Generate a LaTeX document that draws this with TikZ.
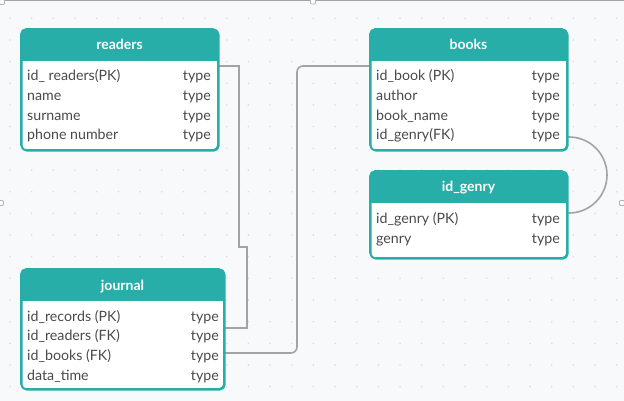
\documentclass[tikz,border=0pt]{standalone}
\usepackage{fontspec}
\setmainfont{Lato}
\definecolor{teal1}{HTML}{27AEA8}
\definecolor{txt}{HTML}{4A4A4A}
\definecolor{conncol}{HTML}{A3A3A3}
\definecolor{bgcol}{HTML}{F8F9FA}
\definecolor{dotcol}{HTML}{DCDEE1}
\tikzset{
  x=1pt,y=-1pt,
  tbody/.style={draw=teal1, line width=1.6pt, fill=white, rounded corners=5pt},
  htext/.style={text=white, font=\fontsize{14}{16}\selectfont\bfseries, inner sep=0pt},
  ltext/.style={text=txt, font=\fontsize{14.2}{16}\selectfont, anchor=base west, inner sep=0pt},
  rtext/.style={text=txt, font=\fontsize{14.2}{16}\selectfont, anchor=base east, inner sep=0pt},
  conn/.style={draw=conncol, line width=1.6pt},
  handle/.style={draw=conncol!80, fill=white, line width=0.8pt, rounded corners=1pt},
}
% #1 name, #2 left, #3 top, #4 right, #5 bottom, #6 title
\newcommand{\ertable}[6]{%
  \node[tbody, minimum width={#4-#2}, minimum height={#5-#3}, anchor=north west, inner sep=0pt] (#1) at (#2,#3) {};
  \begin{scope}
    \clip[rounded corners=5pt] (#2,#3) rectangle (#4,#5);
    \fill[teal1] (#2,#3) rectangle (#4,#3+32);
  \end{scope}
  \draw[teal1, line width=1.6pt, rounded corners=5pt] (#2,#3) rectangle (#4,#5);
  \node[htext, anchor=base] (#1-title) at ({(#2+#4)/2},#3+21) {#6};
}
\begin{document}
\begin{tikzpicture}
\useasboundingbox (0,0) rectangle (624,401);
\fill[bgcol] (0,0) rectangle (624,401);
% dot grid
\foreach \i in {0,...,28} {
  \foreach \j in {0,...,18} {
    \fill[dotcol] ({10+21.67*\i},{18.3+21.67*\j}) circle (0.9);
  }
}
% frame line and handles
\draw[conncol, line width=1pt] (0,1) -- (624,1);
\node[handle, minimum size=5pt, inner sep=0pt] (h1) at (2,2) {};
\node[handle, minimum size=5pt, inner sep=0pt] (h2) at (313,1.5) {};
\node[handle, minimum size=5pt, inner sep=0pt] (h3) at (622,203) {};
\node[handle, minimum size=5pt, inner sep=0pt] (h4) at (1,203) {};

% connectors (drawn below tables)
\coordinate (rp) at (218,66);
\coordinate (jp1) at (224,328);
\coordinate (jp2) at (224,353);
\coordinate (bp1) at (370,66);
\coordinate (bp4) at (567,137);
\coordinate (gp1) at (567,213);
\draw[conn] (rp) -- (239,66) -- (239,247) -- (247,247) -- (247,328) -- (jp1);
\draw[conn, rounded corners=6pt] (jp2) -- (297,353) -- (297,66) -- (bp1);
\draw[conn] (bp4) -- (569,137) arc[start angle=-90, end angle=90, radius=38] -- (gp1);

% readers
\ertable{readers}{21}{29}{218}{150}{readers}
\node[ltext] (r1) at (27,81) {id\_ readers(PK)};
\node[ltext] (r2) at (27,101) {name};
\node[ltext] (r3) at (27,120.5) {surname};
\node[ltext] (r4) at (27,140) {phone number};
\node[rtext] (r1t) at (211,81) {type};
\node[rtext] (r2t) at (211,101) {type};
\node[rtext] (r3t) at (211,120.5) {type};
\node[rtext] (r4t) at (211,140) {type};

% books
\ertable{books}{370}{29}{567}{150}{books}
\node[ltext] (b1) at (376,81) {id\_book (PK)};
\node[ltext] (b2) at (376,101) {author};
\node[ltext] (b3) at (376,120.5) {book\_name};
\node[ltext] (b4) at (376,140) {id\_genry(FK)};
\node[rtext] (b1t) at (560,81) {type};
\node[rtext] (b2t) at (560,101) {type};
\node[rtext] (b3t) at (560,120.5) {type};
\node[rtext] (b4t) at (560,140) {type};

% id_genry
\ertable{genry}{370}{171}{567}{258}{id\_genry}
\node[ltext] (g1) at (376,223) {id\_genry (PK)};
\node[ltext] (g2) at (376,243) {genry};
\node[rtext] (g1t) at (560,223) {type};
\node[rtext] (g2t) at (560,243) {type};

% journal
\ertable{journal}{21}{269}{224}{389}{journal}
\node[ltext] (j1) at (27,321) {id\_records (PK)};
\node[ltext] (j2) at (27,340.5) {id\_readers (FK)};
\node[ltext] (j3) at (27,360) {id\_books (FK)};
\node[ltext] (j4) at (27,380) {data\_time};
\node[rtext] (j1t) at (219,321) {type};
\node[rtext] (j2t) at (219,340.5) {type};
\node[rtext] (j3t) at (219,360) {type};
\node[rtext] (j4t) at (219,380) {type};
\end{tikzpicture}
\end{document}
